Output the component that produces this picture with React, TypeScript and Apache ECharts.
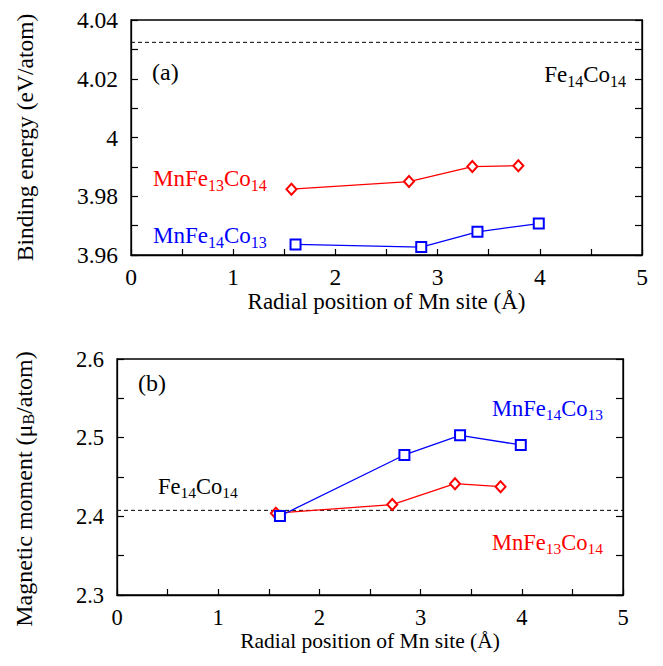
import React, { useEffect, useRef } from "react";
import * as echarts from "echarts";

const xTicks = [0, 1, 2, 3, 4, 5];
const radialMnFe13Co14 = [1.57, 2.72, 3.34, 3.79];
const radialMnFe14Co13 = [1.61, 2.84, 3.39, 3.99];
const energyMnFe13Co14 = [3.9824, 3.985, 3.9901, 3.9904];
const energyMnFe14Co13 = [3.9636, 3.9627, 3.9679, 3.9707];
const energyFe14Co14 = 4.0324;
const momentMnFe13Co14 = [2.404, 2.415, 2.4415, 2.4377];
const momentMnFe14Co13 = [2.4004, 2.478, 2.503, 2.4907];
const momentFe14Co14 = 2.4076;

const FONT = "Liberation Serif";
const RED = "#ff0000";
const BLUE = "#0000ff";

const richStyles = (color: string, main: number, sub: number) => ({
  n: { fontFamily: FONT, fontSize: main, lineHeight: main + 7, verticalAlign: "middle" as const, color },
  s: { fontFamily: FONT, fontSize: sub, lineHeight: sub, verticalAlign: "bottom" as const, color },
});

const formula = (parts: [string, string][]) =>
  parts.map(([a, b]) => `{n|${a}}{s|${b}}`).join("");

function label(x: number, y: number, text: string, color: string, main: number, sub: number, align: "left" | "right" = "left") {
  return {
    type: "text",
    x,
    y,
    style: {
      text,
      rich: richStyles(color, main, sub),
      fontFamily: FONT,
      align,
      verticalAlign: "middle",
      fill: color,
    },
  };
}

export default function App() {
  const ref = useRef<HTMLDivElement>(null);
  useEffect(() => {
    if (!ref.current) return;
    const chart = echarts.init(ref.current, null, { renderer: "svg" });
    const axisLine = { show: true, lineStyle: { color: "#000", width: 1.3 } };
    const tickStyle = { lineStyle: { color: "#000", width: 1.2 } };

    const xAxisBase = (gridIndex: number, labelSize: number, nameSize: number, margin: number, nameGap: number) => ({
      type: "value",
      gridIndex,
      min: 0,
      max: 5,
      interval: 1,
      axisLine,
      axisTick: { show: true, inside: true, length: 6, ...tickStyle },
      minorTick: { show: true, splitNumber: 2, length: 6, ...tickStyle },
      splitLine: { show: false },
      axisLabel: { fontFamily: FONT, fontSize: labelSize, color: "#000", margin, formatter: (v: number) => String(v) },
      name: "Radial position of Mn site (Å)",
      nameLocation: "middle",
      nameGap,
      nameTextStyle: { fontFamily: FONT, fontSize: nameSize, color: "#000" },
    });

    const yAxisPair = (gridIndex: number, min: number, max: number, interval: number, digits: number, labelSize: number, name: string, nameSize: number, nameGap: number, rich?: any, padding?: number[]) => [
      {
        type: "value",
        gridIndex,
        min,
        max,
        interval,
        axisLine,
        axisTick: { show: true, inside: true, length: 7, ...tickStyle },
        minorTick: { show: true, splitNumber: 2, length: 7, ...tickStyle },
        splitLine: { show: false },
        axisLabel: {
          fontFamily: FONT,
          fontSize: labelSize,
          color: "#000",
          margin: 13,
          formatter: (v: number) => String(parseFloat(v.toFixed(digits))),
        },
        name,
        nameLocation: "middle",
        nameGap,
        nameTextStyle: { fontFamily: FONT, fontSize: nameSize, color: "#000", rich, padding: padding || [0, 0, 0, 0] },
      },
      {
        type: "value",
        gridIndex,
        position: "right",
        min,
        max,
        interval,
        axisLine,
        axisTick: { show: true, inside: true, length: 7, ...tickStyle },
        minorTick: { show: true, splitNumber: 2, length: 7, ...tickStyle },
        splitLine: { show: false },
        axisLabel: { show: false },
      },
    ];

    const pts = (xs: number[], ys: number[]) => xs.map((x, i) => [x, ys[i]]);
    const refLine = (v: number, xi: number, yi: number) => ({
      type: "line",
      xAxisIndex: xi,
      yAxisIndex: yi,
      data: [[xTicks[0], v], [xTicks[xTicks.length - 1], v]],
      showSymbol: false,
      symbol: "none",
      lineStyle: { color: "#000", width: 1, type: [4, 3] },
      silent: true,
    });
    const dataLine = (xs: number[], ys: number[], color: string, symbol: string, size: any, xi: number, yi: number) => ({
      type: "line",
      xAxisIndex: xi,
      yAxisIndex: yi,
      data: pts(xs, ys),
      symbol,
      symbolSize: size,
      lineStyle: { color, width: 1.3 },
      itemStyle: { color, borderColor: color, borderWidth: 1.3 },
    });

    const momentRich = {
      s: { fontFamily: FONT, fontSize: 16, color: "#000", padding: [9, 0, 0, 0] },
    };

    chart.setOption({
      animation: false,
      backgroundColor: "#fff",
      textStyle: { fontFamily: FONT },
      grid: [
        { left: 131, top: 20, width: 511, height: 235, show: true, borderColor: "#000", borderWidth: 1.3 },
        { left: 117, top: 359, width: 506, height: 236, show: true, borderColor: "#000", borderWidth: 1.3 },
      ],
      xAxis: [xAxisBase(0, 23.5, 23, 10, 34), xAxisBase(1, 22.5, 21.5, 11, 35)],
      yAxis: [
        ...yAxisPair(0, 3.96, 4.04, 0.02, 2, 23.5, "Binding energy (eV/atom)", 23.5, 94, undefined),
        ...yAxisPair(1, 2.3, 2.6, 0.1, 1, 22.5, "Magnetic moment (μ{s|B}/atom)", 24, 81, momentRich, [0, 24, 0, 0]),
      ],
      series: [
        refLine(energyFe14Co14, 0, 0),
        dataLine(radialMnFe13Co14, energyMnFe13Co14, RED, "emptyDiamond", [10, 11], 0, 0),
        dataLine(radialMnFe14Co13, energyMnFe14Co13, BLUE, "emptyRect", 10, 0, 0),
        refLine(momentFe14Co14, 1, 2),
        dataLine(radialMnFe13Co14, momentMnFe13Co14, RED, "emptyDiamond", [10, 11], 1, 2),
        dataLine(radialMnFe14Co13, momentMnFe14Co13, BLUE, "emptyRect", 10, 1, 2),
      ],
      graphic: [
        { type: "text", x: 152, y: 72, style: { text: "(a)", font: `24px ${FONT}`, fill: "#000", verticalAlign: "middle" } },
        label(626, 74, formula([["Fe", "14"], ["Co", "14"]]), "#000", 23, 16, "right"),
        label(153, 178, formula([["MnFe", "13"], ["Co", "14"]]), RED, 23, 16),
        label(153, 235, formula([["MnFe", "14"], ["Co", "13"]]), BLUE, 23, 16),
        { type: "text", x: 138, y: 383, style: { text: "(b)", font: `24px ${FONT}`, fill: "#000", verticalAlign: "middle" } },
        label(492, 408, formula([["MnFe", "14"], ["Co", "13"]]), BLUE, 22.5, 15.5),
        label(158, 486, formula([["Fe", "14"], ["Co", "14"]]), "#000", 22.5, 15.5),
        label(492, 542, formula([["MnFe", "13"], ["Co", "14"]]), RED, 22.5, 15.5),
      ],
    });
    return () => chart.dispose();
  }, []);
  return <div ref={ref} style={{ width: 663, height: 666, position: "absolute", left: 0, top: 0 }} />;
}
